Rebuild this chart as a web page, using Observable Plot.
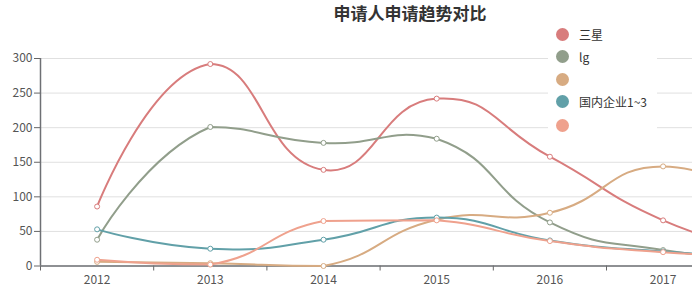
<!DOCTYPE html>
<html>
<head>
<meta charset="utf-8">
<script src="https://cdn.jsdelivr.net/npm/d3@7"></script>
<script src="https://cdn.jsdelivr.net/npm/@observablehq/plot@0.6"></script>
<style>
  html, body { margin: 0; padding: 0; background: #fff; overflow: hidden; }
  #wrap { position: relative; width: 692px; height: 291px; overflow: hidden; font-family: "Noto Sans CJK SC", "Noto Sans", sans-serif; }
  #inner { position: absolute; left: 0; top: 0; width: 860px; height: 291px; }
  #title { position: absolute; left: 0; top: 0; width: 820px; height: 30px; line-height: 25px; text-align: center; font-size: 17px; font-weight: bold; color: #333; }
  #chart { position: absolute; left: 0; top: 30px; }
  #legend { position: absolute; left: 548px; top: 22px; width: 109px; height: 113px; background: #fff; }
  .item { position: absolute; left: 8px; height: 14px; display: flex; align-items: center; font-size: 12px; color: #333; }
  .sw { width: 13px; height: 13px; border-radius: 50%; margin-right: 10px; }
</style>
</head>
<body>
<div id="wrap"><div id="inner">
  <div id="title">申请人申请趋势对比</div>
  <div id="chart"></div>
  <div id="legend"></div>
</div></div>
<script>
const years = [2012, 2013, 2014, 2015, 2016, 2017, 2018];
const yearLabels = [2012, 2013, 2014, 2015, 2016, 2017];
const seriesNames = ["三星", "lg", "", "国内企业1~3", ""];
const seriesColors = ["#d87c7c", "#919e8b", "#d7ab82", "#61a0a8", "#efa18d"];
const samsung  = [86, 292, 139, 242, 158, 66, 15];
const lg       = [38, 201, 178, 184, 63, 23, 10];
const series3  = [6, 4, 0, 67, 77, 144, 77];
const domestic = [53, 25, 38, 70, 37, 21, 12];
const series5  = [9, 2, 65, 66, 36, 20, 12];
const yTicks = [0, 50, 100, 150, 200, 250, 300];

// Smoothed curve in the style of a constrained bezier (handles clamped to the line's bounding box)
function SmoothCurve(context) { this._context = context; this._smooth = 0.5; }
SmoothCurve.prototype = {
  areaStart() { this._line = 0; },
  areaEnd() { this._line = NaN; },
  lineStart() { this._pts = []; },
  point(x, y) { this._pts.push([+x, +y]); },
  lineEnd() {
    const p = this._pts, ctx = this._context, s = this._smooth, n = p.length;
    if (!n) return;
    const minX = d3.min(p, d => d[0]), maxX = d3.max(p, d => d[0]);
    const minY = d3.min(p, d => d[1]), maxY = d3.max(p, d => d[1]);
    const clamp = c => [Math.max(minX, Math.min(maxX, c[0])), Math.max(minY, Math.min(maxY, c[1]))];
    ctx.moveTo(p[0][0], p[0][1]);
    let cp0 = [p[0][0], p[0][1]];
    for (let i = 1; i < n; i++) {
      const cur = p[i], prev = p[i - 1], next = p[i + 1];
      let cp1, ratio = 0.5, v = [0, 0];
      if (!next) {
        cp1 = [cur[0], cur[1]];
      } else {
        v = [next[0] - prev[0], next[1] - prev[1]];
        const a = Math.hypot(cur[0] - prev[0], cur[1] - prev[1]);
        const b = Math.hypot(next[0] - cur[0], next[1] - cur[1]);
        ratio = b / (a + b);
        cp1 = [cur[0] - v[0] * s * (1 - ratio), cur[1] - v[1] * s * (1 - ratio)];
      }
      const c0 = clamp(cp0), c1 = clamp(cp1);
      ctx.bezierCurveTo(c0[0], c0[1], c1[0], c1[1], cur[0], cur[1]);
      cp0 = [cur[0] + v[0] * s * ratio, cur[1] + v[1] * s * ratio];
    }
  }
};
const smoothCurve = context => new SmoothCurve(context);

const allValues = [samsung, lg, series3, domestic, series5];
const rows = [];
allValues.forEach((vals, si) => vals.forEach((v, i) => rows.push({s: si, year: years[i], value: v})));
const bounds = years.map(y => y - 0.5).concat([years[years.length - 1] + 0.5]);

const chart = Plot.plot({
  width: 860,
  height: 261,
  marginLeft: 40,
  marginRight: 27.6,
  marginTop: 28,
  marginBottom: 25.5,
  style: {fontFamily: "'Noto Sans CJK SC', 'Noto Sans', sans-serif", fontSize: "12px", color: "#555"},
  x: {type: "linear", domain: [bounds[0], bounds[bounds.length - 1]]},
  y: {domain: [0, 300]},
  color: {type: "ordinal", domain: d3.range(seriesNames.length), range: seriesColors},
  marks: [
    Plot.gridY(yTicks, {stroke: "#e0e0e0", strokeOpacity: 1, strokeWidth: 1}),
    Plot.axisY(yTicks, {tickSize: 6, tickPadding: 2, stroke: "#666", fill: "#555", label: null}),
    Plot.axisX(bounds, {tickSize: 5, stroke: "#666", text: null, label: null}),
    Plot.axisX(yearLabels, {tickSize: 0, tickPadding: 9, fill: "#555", tickFormat: d => String(d), label: null}),
    Plot.ruleY([0], {stroke: "#6e7074", strokeWidth: 1.5}),
    Plot.ruleX([bounds[0]], {stroke: "#6e7074", strokeWidth: 1.5}),
    Plot.line(rows, {x: "year", y: "value", z: "s", stroke: d => d.s, strokeWidth: 2, curve: smoothCurve}),
    Plot.dot(rows, {x: "year", y: "value", stroke: d => d.s, fill: "white", r: 2.5, strokeWidth: 1})
  ]
});
document.getElementById("chart").appendChild(chart);

const legend = document.getElementById("legend");
const legendTops = [5, 27, 50, 72, 96];
seriesNames.forEach((name, i) => {
  const it = document.createElement("div");
  it.className = "item";
  it.style.top = legendTops[i] + "px";
  const sw = document.createElement("div");
  sw.className = "sw";
  sw.style.background = seriesColors[i];
  const tx = document.createElement("span");
  tx.textContent = name;
  it.appendChild(sw);
  it.appendChild(tx);
  legend.appendChild(it);
});
</script>
</body>
</html>
